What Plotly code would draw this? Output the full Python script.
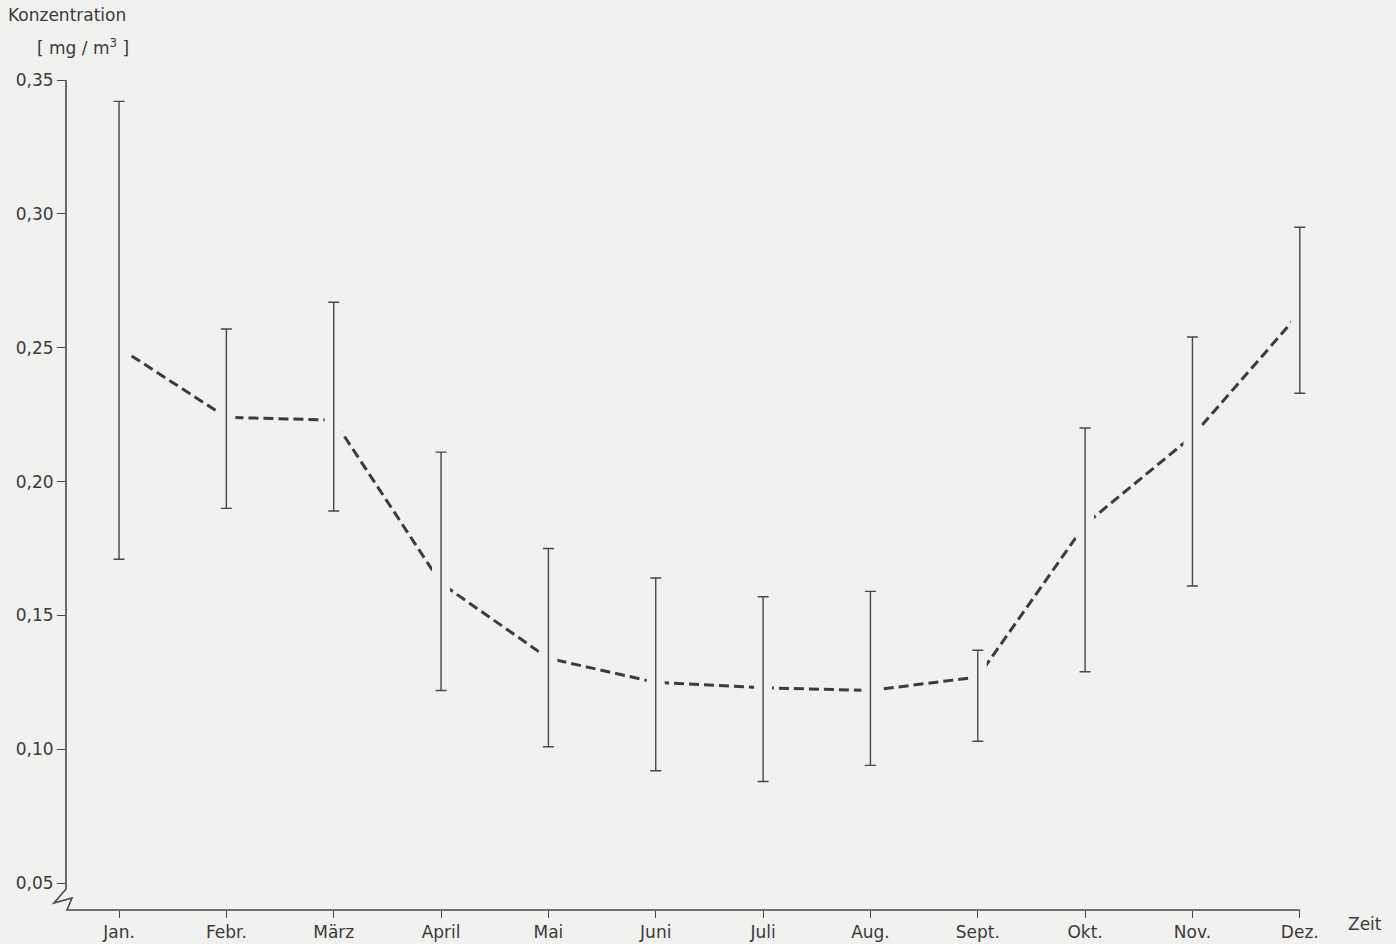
import plotly.graph_objects as go

# Monthly concentration: mean and range (mg/m^3)
months = ["Jan.", "Febr.", "März", "April", "Mai", "Juni",
          "Juli", "Aug.", "Sept.", "Okt.", "Nov.", "Dez."]
month_pos = [1, 2, 3, 4, 5, 6, 7, 8, 9, 10, 11, 12]
mean_vals = [0.250, 0.224, 0.223, 0.162, 0.134, 0.125,
             0.123, 0.122, 0.127, 0.184, 0.217, 0.263]
upper_vals = [0.342, 0.257, 0.267, 0.211, 0.175, 0.164,
              0.157, 0.159, 0.137, 0.220, 0.254, 0.295]
lower_vals = [0.171, 0.190, 0.189, 0.122, 0.101, 0.092,
              0.088, 0.094, 0.103, 0.129, 0.161, 0.233]

y_ticks = [0.05, 0.10, 0.15, 0.20, 0.25, 0.30, 0.35]
y_tick_text = ["0,05", "0,10", "0,15", "0,20", "0,25", "0,30", "0,35"]

BG = "#f1f1f0"
INK = "#3a3a3a"
LINE = "#474747"
FONT = "DejaVu Sans"

# plot-area size in pixels (used for placing frame and labels)
PW, PH = 1266, 830

err_plus = [u - m for u, m in zip(upper_vals, mean_vals)]
err_minus = [m - l for m, l in zip(mean_vals, lower_vals)]

fig = go.Figure()

# dashed mean curve
fig.add_trace(go.Scatter(
    x=month_pos, y=mean_vals, mode="lines",
    line=dict(color="#3c3c3c", width=3, dash="10px,5px"),
    hoverinfo="skip", showlegend=False,
))

# paper-coloured band so the dashed curve breaks around each range bar
fig.add_trace(go.Scatter(
    x=month_pos, y=mean_vals, mode="markers",
    marker=dict(size=1, opacity=0),
    error_y=dict(type="data", symmetric=False, array=err_plus,
                 arrayminus=err_minus, color=BG, thickness=18, width=0),
    cliponaxis=False, hoverinfo="skip", showlegend=False,
))

# range bars
fig.add_trace(go.Scatter(
    x=month_pos, y=mean_vals, mode="markers",
    marker=dict(size=1, opacity=0),
    error_y=dict(type="data", symmetric=False, array=err_plus,
                 arrayminus=err_minus, color=LINE, thickness=1.4, width=5.5),
    cliponaxis=False, hoverinfo="skip", showlegend=False,
))

x0 = 0.506


def px(dx):
    return dx / PW


def py(dy):
    return dy / PH


# axis frame with a break symbol at the foot of the value axis
axis_path = (f"M 0,1 L 0,{py(21)} L {px(-12)},{py(7)} "
             f"L {px(6)},{py(12)} L {px(1)},0 L {px(1234)},0")
fig.add_shape(type="path", path=axis_path, xref="paper", yref="paper",
              line=dict(color=LINE, width=1.6), layer="above")

fig.update_layout(
    width=1396, height=944,
    margin=dict(l=66, r=64, t=80, b=34, autoexpand=False),
    paper_bgcolor=BG, plot_bgcolor=BG,
    font=dict(family=FONT, size=17, color=INK),
    xaxis=dict(range=[x0, 12.3], tickvals=month_pos, ticktext=months,
               ticks="outside", ticklen=7, tickwidth=1.4, tickcolor=LINE,
               showline=False, showgrid=False, zeroline=False,
               automargin=False,
               tickfont=dict(family=FONT, size=17, color=INK)),
    yaxis=dict(range=[0.04, 0.35], tickvals=y_ticks, ticktext=y_tick_text,
               ticks="outside", ticklen=8, tickwidth=1.4, tickcolor=LINE,
               showline=False, showgrid=False, zeroline=False,
               automargin=False,
               tickfont=dict(family=FONT, size=17, color=INK)),
    annotations=[
        dict(text="Konzentration", xref="paper", yref="paper",
             x=px(-60), y=1 + py(65), xanchor="left", yanchor="middle",
             showarrow=False, font=dict(family=FONT, size=17, color=INK)),
        dict(text="[ mg / m<sup>3</sup> ]", xref="paper", yref="paper",
             x=px(-31), y=1 + py(33), xanchor="left", yanchor="middle",
             showarrow=False, font=dict(family=FONT, size=17, color=INK)),
        dict(text="Zeit", xref="paper", yref="paper",
             x=1 + px(14), y=py(-14), xanchor="left", yanchor="middle",
             showarrow=False, font=dict(family=FONT, size=17, color=INK)),
    ],
)

fig.write_html("out.html")
